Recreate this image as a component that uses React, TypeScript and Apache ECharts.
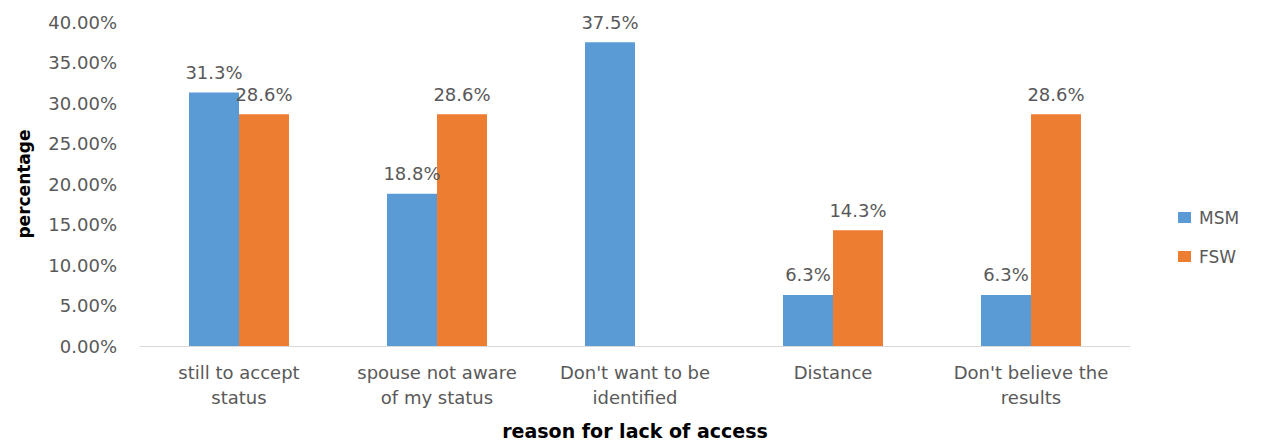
import React, { useEffect, useRef } from "react";
import * as echarts from "echarts";

const categories = [
  "still to accept\nstatus",
  "spouse not aware\nof my status",
  "Don't want to be\nidentified",
  "Distance",
  "Don't believe the\nresults",
];
const msmValues = [31.3, 18.8, 37.5, 6.3, 6.3];
const fswValues = [28.6, 28.6, null, 14.3, 28.6];
const seriesNames = ["MSM", "FSW"];
const yMin = 0;
const yMax = 40;
const yInterval = 5;

const FONT = "DejaVu Sans";
const GRAY = "#595959";

export default function App() {
  const ref = useRef<HTMLDivElement>(null);
  useEffect(() => {
    if (!ref.current) return;
    const chart = echarts.init(ref.current, null, { renderer: "svg" });
    const labelCfg = {
      show: true,
      position: "top" as const,
      distance: 11,
      color: GRAY,
      fontFamily: FONT,
      fontSize: 18,
      formatter: (p: any) => (p.value == null ? "" : Number(p.value).toFixed(1) + "%"),
    };
    chart.setOption({
      animation: false,
      backgroundColor: "#ffffff",
      grid: { left: 140, right: 133, top: 22, bottom: 99 },
      legend: {
        orient: "vertical",
        left: 1173,
        top: 204,
        itemWidth: 13,
        itemHeight: 11,
        itemGap: 22,
        icon: "rect",
        textStyle: { color: GRAY, fontFamily: FONT, fontSize: 17, padding: [0, 0, 0, 3] },
        data: seriesNames,
      },
      xAxis: {
        type: "category",
        data: categories,
        name: "reason for lack of access",
        nameLocation: "middle",
        nameGap: 75,
        nameTextStyle: { color: "#000", fontFamily: FONT, fontSize: 19, fontWeight: "bold" },
        axisLine: { show: true, lineStyle: { color: "#D9D9D9", width: 1 } },
        axisTick: { show: false },
        axisLabel: {
          color: GRAY,
          fontFamily: FONT,
          fontSize: 18,
          lineHeight: 25,
          margin: 14,
          interval: 0,
        },
      },
      yAxis: {
        type: "value",
        min: yMin,
        max: yMax,
        interval: yInterval,
        name: "percentage",
        nameLocation: "middle",
        nameGap: 108,
        nameTextStyle: { color: "#000", fontFamily: FONT, fontSize: 17, fontWeight: "bold" },
        axisLine: { show: false },
        axisTick: { show: false },
        splitLine: { show: false },
        axisLabel: {
          color: GRAY,
          fontFamily: FONT,
          fontSize: 18,
          margin: 23,
          formatter: (v: number) => v.toFixed(2) + "%",
        },
      },
      series: [
        {
          name: seriesNames[0],
          type: "bar",
          data: msmValues,
          barWidth: 50,
          barGap: "0%",
          itemStyle: { color: "#5B9BD5" },
          label: labelCfg,
        },
        {
          name: seriesNames[1],
          type: "bar",
          data: fswValues,
          barWidth: 50,
          barGap: "0%",
          itemStyle: { color: "#ED7D31" },
          label: labelCfg,
        },
      ],
    });
    return () => chart.dispose();
  }, []);
  return (
    <div
      ref={ref}
      style={{ position: "fixed", left: 0, top: 0, width: 1263, height: 445, background: "#fff" }}
    />
  );
}
